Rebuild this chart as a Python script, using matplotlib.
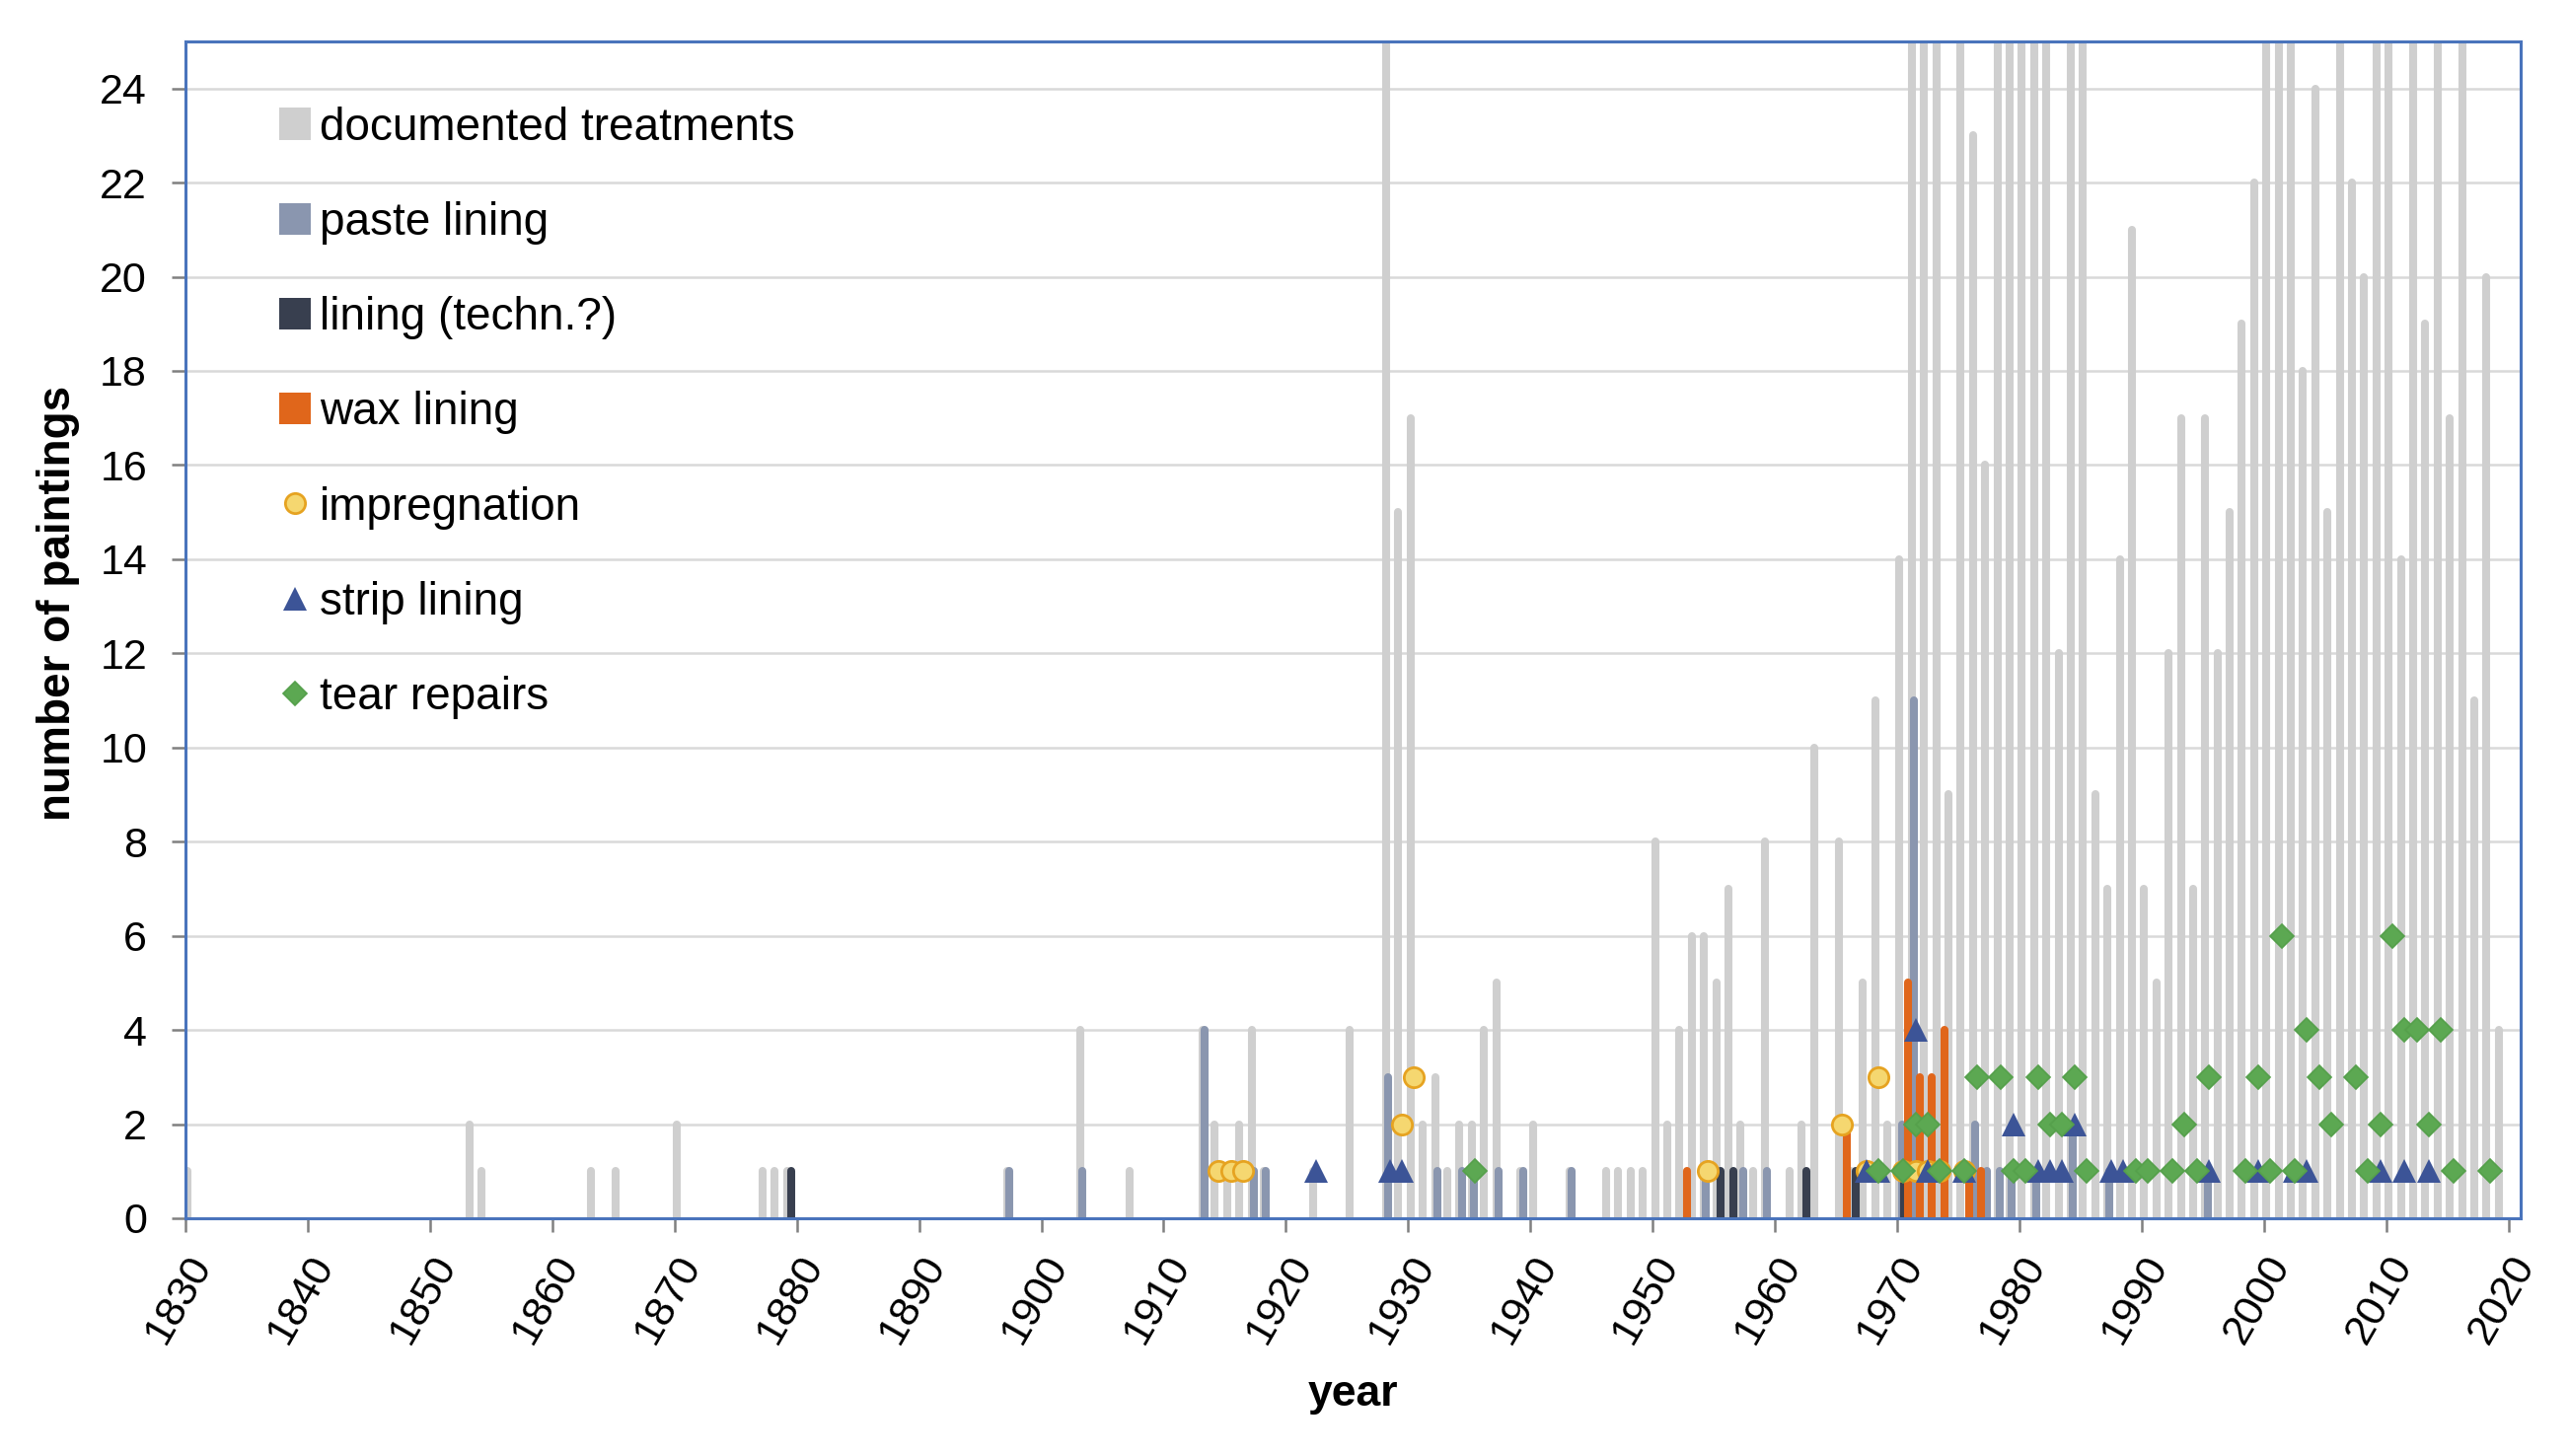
import matplotlib
matplotlib.use("Agg")
import matplotlib.pyplot as plt
from matplotlib.lines import Line2D
from matplotlib.patches import Patch
import numpy as np

plt.rcParams['font.family'] = ['Liberation Sans', 'DejaVu Sans']

# documented treatments (grey columns), values above 25 are cut off at the axis top
doc_years = [1830, 1853, 1854, 1863, 1865, 1870, 1877, 1878, 1879, 1897,
             1903, 1907, 1913, 1914, 1915, 1916, 1917, 1918, 1922, 1925,
             1928, 1929, 1930, 1931, 1932, 1933, 1934, 1935, 1936, 1937,
             1939, 1940, 1943, 1946, 1947, 1948, 1949, 1950, 1951, 1952,
             1953, 1954, 1955, 1956, 1957, 1958, 1959, 1961, 1962, 1963,
             1965, 1966, 1967, 1968, 1969, 1970, 1971, 1972, 1973, 1974,
             1975, 1976, 1977, 1978, 1979, 1980, 1981, 1982, 1983, 1984,
             1985, 1986, 1987, 1988, 1989, 1990, 1991, 1992, 1993, 1994,
             1995, 1996, 1997, 1998, 1999, 2000, 2001, 2002, 2003, 2004,
             2005, 2006, 2007, 2008, 2009, 2010, 2011, 2012, 2013, 2014,
             2015, 2016, 2017, 2018, 2019]
doc_counts = [1, 2, 1, 1, 1, 2, 1, 1, 1, 1,
              4, 1, 4, 2, 1, 2, 4, 1, 1, 4,
              25, 15, 17, 2, 3, 1, 2, 2, 4, 5,
              1, 2, 1, 1, 1, 1, 1, 8, 2, 4,
              6, 6, 5, 7, 2, 1, 8, 1, 2, 10,
              8, 1, 5, 11, 2, 14, 25, 25, 25, 9,
              25, 23, 16, 25, 25, 25, 25, 25, 12, 25,
              25, 9, 7, 14, 21, 7, 5, 12, 17, 7,
              17, 12, 15, 19, 22, 25, 25, 25, 18, 24,
              15, 25, 22, 20, 25, 25, 14, 25, 19, 25,
              17, 25, 11, 20, 4]

paste_years = [1897, 1903, 1913, 1917, 1918, 1928, 1932, 1934, 1935, 1937,
               1939, 1943, 1954, 1957, 1959, 1970, 1971, 1976, 1977, 1978,
               1979, 1981, 1984, 1987, 1995]
paste_counts = [1, 1, 4, 1, 1, 3, 1, 1, 1, 1,
                1, 1, 1, 1, 1, 2, 11, 2, 1, 1,
                1, 1, 2, 1, 1]

techn_years = [1879, 1955, 1956, 1962, 1966, 1970]
techn_counts = [1, 1, 1, 1, 1, 1]

wax_years = [1952, 1965, 1970, 1971, 1972, 1973, 1975, 1976]
wax_counts = [1, 2, 5, 3, 3, 4, 1, 1]

impr_years = [1914, 1915, 1916, 1929, 1930, 1954, 1965, 1967, 1968, 1970,
              1971, 1972, 1973, 1975]
impr_counts = [1, 1, 1, 2, 3, 1, 2, 1, 3, 1,
               1, 1, 1, 1]

strip_years = [1922, 1928, 1929, 1967, 1968, 1971, 1972, 1975, 1979, 1981,
               1982, 1983, 1984, 1987, 1988, 1995, 1999, 2002, 2003, 2009,
               2011, 2013]
strip_counts = [1, 1, 1, 1, 1, 4, 1, 1, 2, 1,
                1, 1, 2, 1, 1, 1, 1, 1, 1, 1,
                1, 1]

tear_years = [1935, 1968, 1970, 1971, 1972, 1973, 1975, 1976, 1978, 1979,
              1980, 1981, 1982, 1983, 1984, 1985, 1989, 1990, 1992, 1993,
              1994, 1995, 1998, 1999, 2000, 2001, 2002, 2003, 2004, 2005,
              2007, 2008, 2009, 2010, 2011, 2012, 2013, 2014, 2015, 2018]
tear_counts = [1, 1, 1, 2, 2, 1, 1, 3, 3, 1,
               1, 3, 2, 2, 3, 1, 1, 1, 1, 2,
               1, 3, 1, 3, 1, 6, 1, 4, 3, 2,
               3, 1, 2, 6, 4, 4, 2, 4, 1, 1]

year_ticks = list(range(1830, 2021, 10))
count_ticks = list(range(0, 25, 2))

C_DOC = '#CFCFCF'
C_PASTE = '#8A96AF'
C_TECHN = '#383F4F'
C_WAX = '#E0661B'
C_IMPR = '#F5D770'
C_IMPR_EDGE = '#E6A321'
C_STRIP = '#3C5497'
C_TEAR = '#5CA852'
C_FRAME = '#4A74BC'

fig = plt.figure(figsize=(13.02, 7.38), dpi=200)
ax = fig.add_axes([0.0722, 0.1633, 0.909, 0.8083])

bar_lw = 2.9
def columns(years, counts, offset, color):
    x = np.array(years) + offset
    ax.vlines(x, 0, counts, colors=color, linewidth=bar_lw,
              capstyle='round', zorder=2)

columns(doc_years, doc_counts, 0.2, C_DOC)
columns(paste_years, paste_counts, 0.38, C_PASTE)
columns(techn_years, techn_counts, 0.58, C_TECHN)
columns(wax_years, wax_counts, 0.85, C_WAX)

mx = 0.5
ax.plot(np.array(impr_years) + mx, impr_counts, 'o', ls='none', ms=7.3,
        mfc=C_IMPR, mec=C_IMPR_EDGE, mew=1.0, zorder=3)
ax.plot(np.array(strip_years) + mx, strip_counts, '^', ls='none', ms=8.3,
        mfc=C_STRIP, mec=C_STRIP, mew=0, zorder=4)
ax.plot(np.array(tear_years) + mx, tear_counts, 'D', ls='none', ms=6.2,
        mfc=C_TEAR, mec='#55A04B', mew=0.6, zorder=5)

ax.set_xlim(1830, 2021)
ax.set_ylim(0, 25)
ax.set_xticks(year_ticks)
ax.set_yticks(count_ticks)
ax.tick_params(axis='x', labelsize=15.5, length=5, width=0.9, color='#808080',
               pad=6, labelrotation=60)
plt.setp(ax.get_xticklabels(), ha='right', rotation_mode='anchor')
ax.tick_params(axis='y', labelsize=15.5, length=5, width=0.9, color='#808080', pad=9)
ax.grid(axis='y', color='#D9D9D9', linewidth=0.9, zorder=0)
ax.set_axisbelow(True)
for s in ax.spines.values():
    s.set_color(C_FRAME)
    s.set_linewidth(1.1)

ax.set_xlabel('year', fontsize=16, fontweight='bold', labelpad=9)
ax.set_ylabel('number of paintings', fontsize=16.5, fontweight='bold')
ax.yaxis.set_label_coords(-0.045, 0.523)

handles = [
    Patch(facecolor=C_DOC, edgecolor='none'),
    Patch(facecolor=C_PASTE, edgecolor='none'),
    Patch(facecolor=C_TECHN, edgecolor='none'),
    Patch(facecolor=C_WAX, edgecolor='none'),
    Line2D([], [], ls='none', marker='o', ms=7.3, mfc=C_IMPR, mec=C_IMPR_EDGE, mew=1.0),
    Line2D([], [], ls='none', marker='^', ms=8.3, mfc=C_STRIP, mec=C_STRIP, mew=0),
    Line2D([], [], ls='none', marker='D', ms=6.2, mfc=C_TEAR, mec='#55A04B', mew=0.6),
]
labels = ['documented treatments', 'paste lining', 'lining (techn.?)', 'wax lining',
          'impregnation', 'strip lining', 'tear repairs']
ax.legend(handles, labels, loc='upper left', bbox_to_anchor=(0.04, 0.945),
          frameon=False, fontsize=16.5, handlelength=0.7, handleheight=0.7,
          handletextpad=0.2, labelspacing=1.14, borderpad=0, borderaxespad=0)

fig.savefig('out.png', dpi=200)
